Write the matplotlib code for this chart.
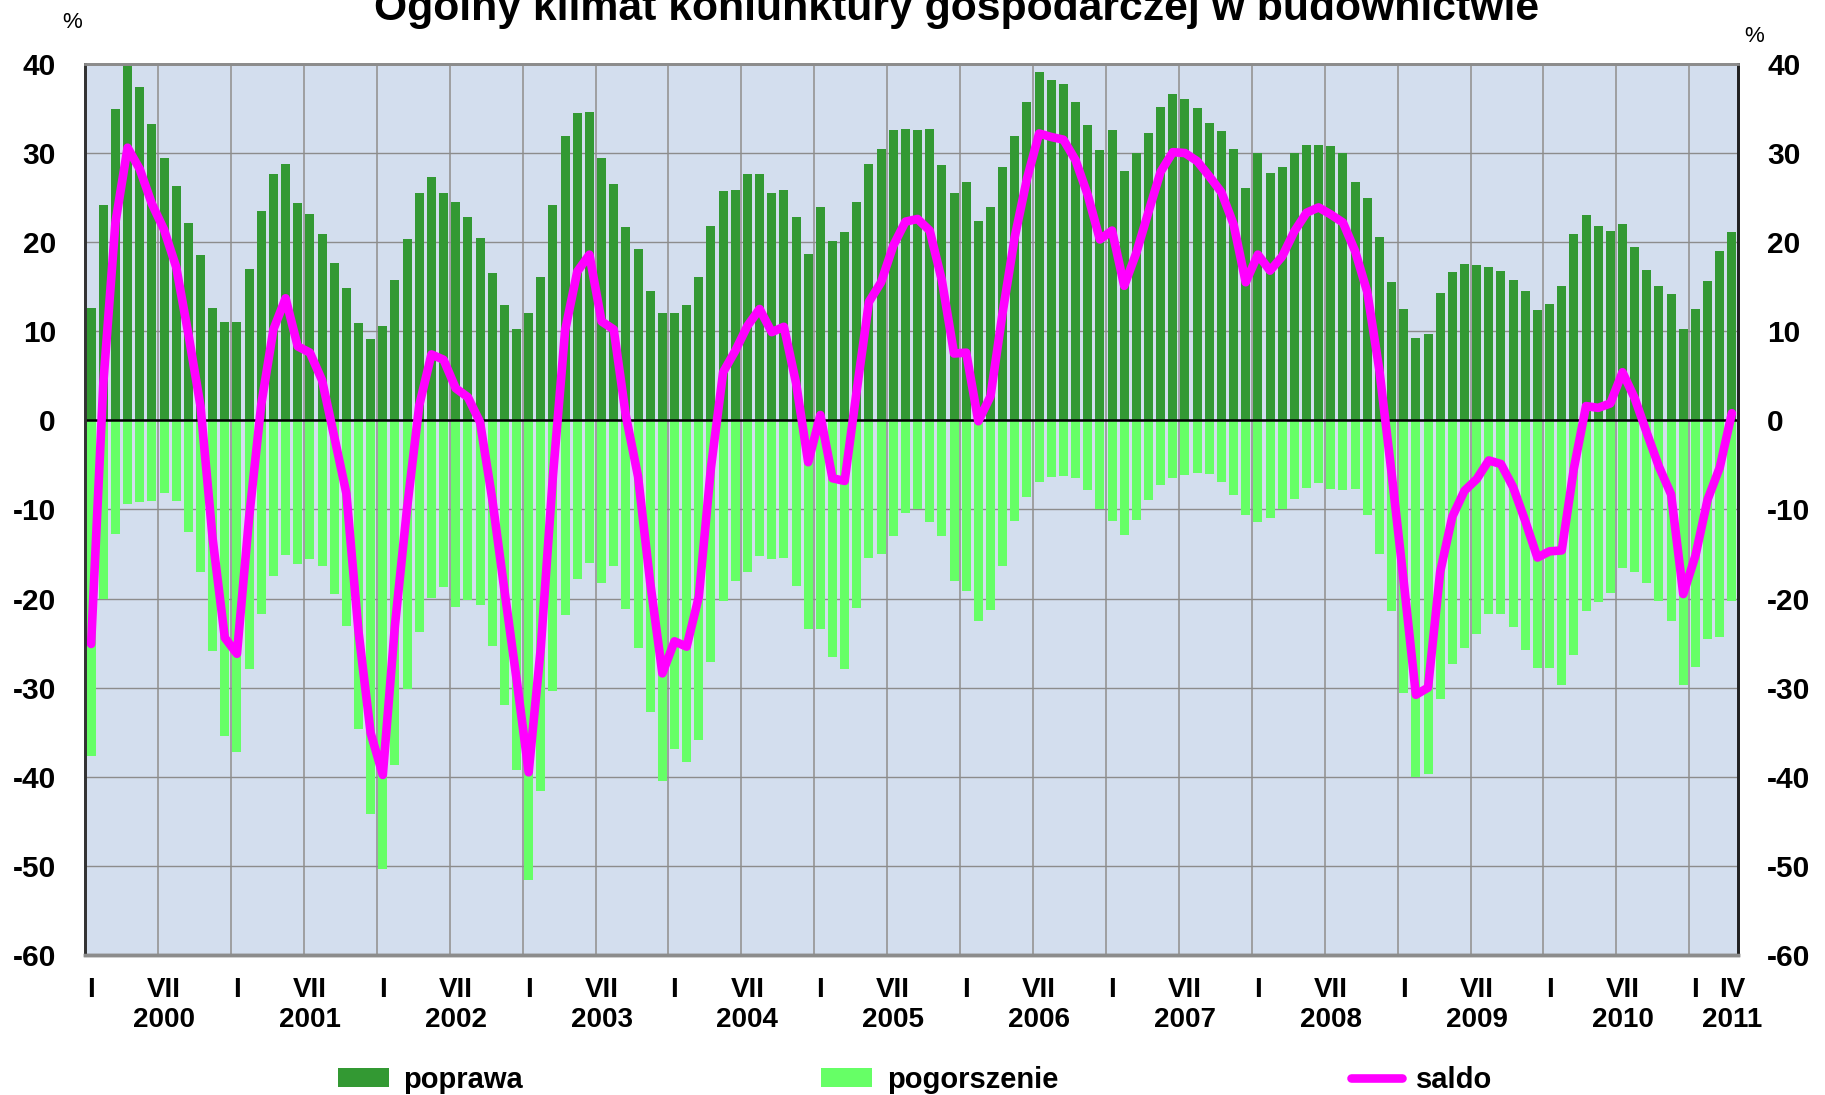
import numpy as np
import matplotlib
matplotlib.use("Agg")
import matplotlib.pyplot as plt
from matplotlib.lines import Line2D
from matplotlib.patches import Patch

plt.rcParams['font.family'] = ['Liberation Sans', 'DejaVu Sans']
plt.rcParams['axes.unicode_minus'] = False

# monthly survey results, I 2000 - IV 2011 (%)
years = list(range(2000, 2012))
poprawa = [
    12.6, 24.2, 34.9, 40.0, 37.4, 33.3, 29.5, 26.3, 22.2, 18.6, 12.6, 11.0,
    11.0, 17.0, 23.5, 27.7, 28.8, 24.4, 23.2, 20.9, 17.7, 14.9, 10.9, 9.1,
    10.6, 15.7, 20.3, 25.5, 27.3, 25.5, 24.5, 22.8, 20.5, 16.5, 12.9, 10.2,
    12.1, 16.1, 24.2, 31.9, 34.5, 34.6, 29.4, 26.5, 21.7, 19.2, 14.5, 12.1,
    12.1, 12.9, 16.1, 21.8, 25.7, 25.8, 27.6, 27.7, 25.5, 25.9, 22.8, 18.7,
    24.0, 20.1, 21.1, 24.5, 28.8, 30.5, 32.6, 32.7, 32.6, 32.7, 28.7, 25.5,
    26.7, 22.4, 24.0, 28.4, 31.9, 35.7, 39.1, 38.2, 37.7, 35.7, 33.1, 30.3,
    32.6, 28.0, 30.0, 32.3, 35.2, 36.6, 36.1, 35.0, 33.4, 32.5, 30.4, 26.1,
    30.0, 27.8, 28.4, 30.0, 30.9, 30.9, 30.8, 30.0, 26.7, 25.0, 20.6, 15.5,
    12.5, 9.2, 9.7, 14.3, 16.6, 17.6, 17.4, 17.2, 16.8, 15.7, 14.5, 12.4,
    13.1, 15.1, 20.9, 23.0, 21.8, 21.3, 22.0, 19.5, 16.9, 15.1, 14.2, 10.2,
    12.5, 15.6, 19.0, 21.1,
]
pogorszenie = [
    -37.7, -20.1, -12.7, -9.4, -9.2, -9.0, -8.1, -9.1, -12.5, -17.0, -25.9, -35.4,
    -37.2, -27.9, -21.7, -17.5, -15.1, -16.1, -15.6, -16.4, -19.5, -23.1, -34.6, -44.2,
    -50.4, -38.7, -30.1, -23.8, -19.9, -18.7, -20.9, -20.2, -20.7, -25.3, -31.9, -39.2,
    -51.6, -41.6, -30.4, -21.8, -17.8, -16.0, -18.3, -16.3, -21.2, -25.5, -32.7, -40.5,
    -36.9, -38.3, -35.9, -27.1, -20.3, -18.0, -17.0, -15.2, -15.6, -15.4, -18.6, -23.4,
    -23.4, -26.6, -27.9, -21.1, -15.5, -15.0, -13.0, -10.4, -10.0, -11.4, -13.0, -18.0,
    -19.1, -22.5, -21.3, -16.3, -11.3, -8.6, -6.9, -6.4, -6.2, -6.5, -7.8, -10.0,
    -11.3, -12.9, -11.2, -8.9, -7.3, -6.5, -6.1, -5.9, -6.0, -6.9, -8.4, -10.6,
    -11.4, -11.0, -10.0, -8.8, -7.6, -7.0, -7.7, -7.8, -7.7, -10.6, -15.0, -21.4,
    -30.6, -40.0, -39.7, -31.3, -27.4, -25.5, -24.0, -21.7, -21.7, -23.2, -25.8, -27.8,
    -27.8, -29.7, -26.3, -21.4, -20.4, -19.4, -16.6, -17.0, -18.3, -20.3, -22.5, -29.7,
    -27.7, -24.5, -24.3, -20.3,
]
saldo = [
    -25.1, 4.1, 22.2, 30.6, 28.2, 24.3, 21.4, 17.2, 9.7, 1.6, -13.3, -24.4,
    -26.2, -10.9, 1.8, 10.2, 13.7, 8.3, 7.6, 4.5, -1.8, -8.2, -23.7, -35.1,
    -39.8, -23.0, -9.8, 1.7, 7.4, 6.8, 3.6, 2.6, -0.2, -8.8, -19.0, -29.0,
    -39.5, -25.5, -6.2, 10.1, 16.7, 18.6, 11.1, 10.2, 0.5, -6.3, -18.2, -28.4,
    -24.8, -25.4, -19.8, -5.3, 5.4, 7.8, 10.6, 12.5, 9.9, 10.5, 4.2, -4.7,
    0.6, -6.5, -6.8, 3.4, 13.3, 15.5, 19.6, 22.3, 22.6, 21.3, 15.7, 7.5,
    7.6, -0.1, 2.7, 12.1, 20.6, 27.1, 32.2, 31.8, 31.5, 29.2, 25.3, 20.3,
    21.3, 15.1, 18.8, 23.4, 27.9, 30.1, 30.0, 29.1, 27.4, 25.6, 22.0, 15.5,
    18.6, 16.8, 18.4, 21.2, 23.3, 23.9, 23.1, 22.2, 19.0, 14.4, 5.6, -5.9,
    -18.1, -30.8, -30.0, -17.0, -10.8, -7.9, -6.6, -4.5, -4.9, -7.5, -11.3, -15.4,
    -14.7, -14.6, -5.4, 1.6, 1.4, 1.9, 5.4, 2.5, -1.4, -5.2, -8.3, -19.5,
    -15.2, -8.9, -5.3, 0.8,
]

x = np.arange(len(poprawa))

fig = plt.figure(figsize=(18.25, 10.95), dpi=100)
ax = fig.add_axes([0.0466, 0.1279, 0.9057, 0.8137])
ax.set_facecolor('#D3DEEE')

ax.bar(x, poprawa, width=0.74, color='#339933', zorder=2)
ax.bar(x, pogorszenie, width=0.74, color='#66FF66', zorder=2)
ax.axhline(0, color='black', lw=1.8, zorder=3)
ax.plot(x, saldo, color='#FF00FF', lw=6.2, solid_joinstyle='round',
        solid_capstyle='round', zorder=4)

ax.set_xlim(-0.5, len(x) - 0.5)
ax.set_ylim(-60, 40)
ax.set_yticks(range(-60, 41, 10))

# half-year grid between months, labels under Jan / Jul
ax.set_xticks(np.arange(5.5, len(x) - 1, 6), minor=True)
ax.grid(True, which='minor', axis='x', color='#9A9A9A', lw=1.3, zorder=1)
ax.grid(True, which='major', axis='y', color='#8C8C8C', lw=1.0, zorder=1)

pos, labs = [], []
for i, yr in enumerate(years):
    if 12 * i < len(x):
        pos.append(12 * i)
        labs.append('I')
    if 12 * i + 6 < len(x):
        pos.append(12 * i + 6)
        labs.append('VII\n%d' % yr)
pos.append(len(x) - 1)
labs.append('IV\n%d' % years[-1])
ax.set_xticks(pos)
ax.set_xticklabels(labs, fontsize=20, fontweight='bold', linespacing=1.2)
ax.tick_params(axis='x', which='both', length=0, pad=16)
ax.tick_params(axis='y', length=0, pad=21, labelsize=21.5)
for t in ax.get_yticklabels():
    t.set_fontweight('bold')

ax2 = ax.twinx()
ax2.set_ylim(-60, 40)
ax2.set_yticks(range(-60, 41, 10))
ax2.tick_params(axis='y', length=0, pad=21, labelsize=21.5)
for t in ax2.get_yticklabels():
    t.set_fontweight('bold')

for a in (ax, ax2):
    a.spines['top'].set_color('#8C8C8C')
    a.spines['top'].set_linewidth(2)
    a.spines['bottom'].set_color('#8C8C8C')
    a.spines['bottom'].set_linewidth(2.5)
    a.spines['left'].set_color('#333333')
    a.spines['left'].set_linewidth(2)
    a.spines['right'].set_color('#222222')
    a.spines['right'].set_linewidth(2)

fig.text(0.5244, 0.982, 'Ogólny klimat koniunktury gospodarczej w budownictwie',
         ha='center', va='baseline', fontsize=30.8, fontweight='bold')
fig.text(0.0395, 0.979, '%', ha='center', va='center', fontsize=16)
fig.text(0.961, 0.967, '%', ha='center', va='center', fontsize=16)

entries = [
    (Patch(facecolor='#339933'), 'poprawa', 0.185),
    (Patch(facecolor='#66FF66'), 'pogorszenie', 0.450),
    (Line2D([], [], color='#FF00FF', lw=6.2, solid_capstyle='round'), 'saldo', 0.740),
]
for h, lab, xpos in entries:
    fig.legend([h], [lab], loc='center left', bbox_to_anchor=(xpos, 0.014),
               frameon=False, handlelength=1.75, handleheight=0.6,
               handletextpad=0.5, borderpad=0, borderaxespad=0,
               prop={'size': 21, 'weight': 'bold'})

fig.savefig('out.png', dpi=100)
